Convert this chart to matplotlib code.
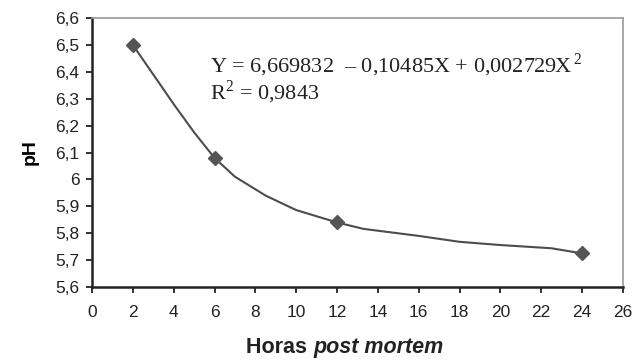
import matplotlib.pyplot as plt
from matplotlib.ticker import FuncFormatter

# medidas
horas = [2, 6, 12, 24]
ph = [6.50, 6.08, 5.84, 5.725]

# curva ajustada
curva_x = [2, 3, 4, 5, 6, 7, 8.5, 10, 11, 12, 13.3, 16, 18, 20, 22.5, 24]
curva_y = [6.50, 6.39, 6.28, 6.175, 6.08, 6.01, 5.94, 5.886, 5.863, 5.84,
           5.816, 5.79, 5.768, 5.756, 5.744, 5.725]

ecuacion = "Y = 6,669832  \u2013 0,10485X + 0,002729X$^{\\,2}$"
r2 = "R$^{2}$ = 0,9843"

plt.rcParams['font.family'] = 'Liberation Sans'
plt.rcParams['mathtext.fontset'] = 'custom'
plt.rcParams['mathtext.rm'] = 'Liberation Serif'

fig = plt.figure(figsize=(6.32, 3.61), dpi=100)
ax = fig.add_axes([0.1456, 0.205, 0.840, 0.745])

ax.plot(curva_x, curva_y, color='#4d4d4d', lw=1.5, zorder=2)
ax.plot(horas, ph, linestyle='none', marker='D', ms=7, color='#555555', zorder=3)

ax.set_xlim(0, 26)
ax.set_ylim(5.6, 6.6)
ax.set_xticks(range(0, 27, 2))
ax.set_yticks([5.6 + 0.1 * i for i in range(11)])
ax.yaxis.set_major_formatter(FuncFormatter(lambda v, p: ("%.1f" % v).rstrip('0').rstrip('.').replace('.', ',')))
ax.tick_params(labelsize=12.5, colors='#222222', length=4, width=1.3, direction='out')
ax.tick_params(axis='y', pad=5)
ax.tick_params(axis='x', pad=9)

for s in ['left', 'bottom']:
    ax.spines[s].set_color('#222222')
    ax.spines[s].set_linewidth(1.8)
for s in ['top', 'right']:
    ax.spines[s].set_color('#999999')
    ax.spines[s].set_linewidth(1.2)

ax.set_ylabel("pH", fontsize=14, fontweight='bold', labelpad=12)

ax.text(0.222, 0.825, ecuacion, transform=ax.transAxes, fontsize=16,
        family='Liberation Serif', va='center', color='#222222')
ax.text(0.222, 0.725, r2, transform=ax.transAxes, fontsize=16,
        family='Liberation Serif', va='center', color='#222222')

t1 = fig.text(0.39, 0.022, "Horas ", fontsize=15.5, fontweight='bold', color='#222222')
ax.annotate("post mortem", xy=(1, 0), xycoords=t1, fontsize=15.5, fontweight='bold',
            style='italic', color='#222222', va='bottom', ha='left')

fig.savefig("out.png", dpi=100)
